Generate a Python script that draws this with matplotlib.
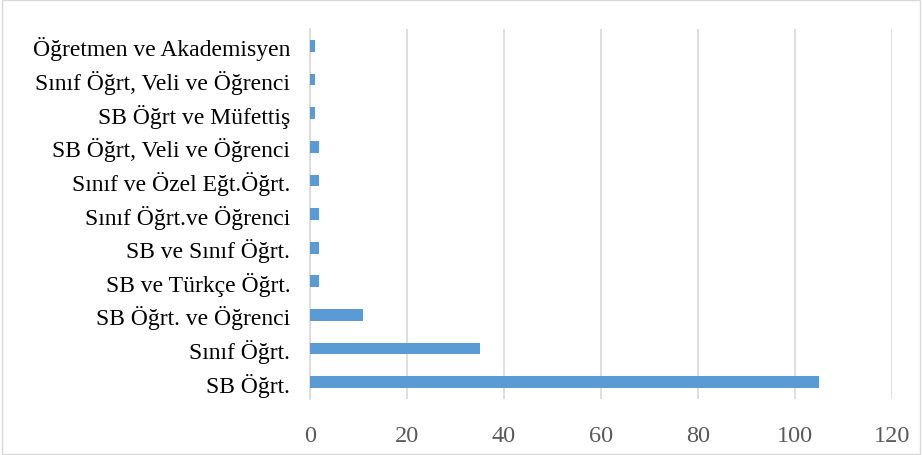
import matplotlib.pyplot as plt
from matplotlib.patches import Rectangle

# kategoriler (alttan üste)
kategoriler = ["SB Öğrt.", "Sınıf Öğrt.", "SB Öğrt. ve Öğrenci", "SB ve Türkçe Öğrt.",
               "SB ve Sınıf Öğrt.", "Sınıf Öğrt.ve Öğrenci", "Sınıf ve Özel Eğt.Öğrt.",
               "SB Öğrt, Veli ve Öğrenci", "SB Öğrt ve Müfettiş",
               "Sınıf Öğrt, Veli ve Öğrenci", "Öğretmen ve Akademisyen"]
degerler = [105, 35, 11, 2, 2, 2, 2, 2, 1, 1, 1]
x_ticks = [0, 20, 40, 60, 80, 100, 120]

plt.rcParams['font.family'] = ['Liberation Serif', 'DejaVu Serif']

fig = plt.figure(figsize=(9.22, 4.56), dpi=100)
ax = fig.add_axes([0.336, 0.123, 0.6315, 0.811])

y = range(len(kategoriler))
ax.barh(y, degerler, height=0.35, color='#5B9BD5', zorder=3)

ax.set_xlim(0, 120)
ax.set_ylim(-0.5, len(kategoriler) - 0.5)
ax.set_xticks(x_ticks)
ax.set_yticks(list(y))
ax.set_yticklabels(kategoriler)
ax.grid(axis='x', color='#D9D9D9', linewidth=1.2, zorder=0)
ax.tick_params(axis='both', length=0)
ax.tick_params(axis='x', colors='#595959', pad=19, labelsize=17.5)
ax.tick_params(axis='y', colors='black', pad=14, labelsize=17)
for s in ['top', 'right', 'bottom']:
    ax.spines[s].set_visible(False)
ax.spines['left'].set_color('#D9D9D9')
ax.spines['left'].set_linewidth(1.2)

# çerçeve
fig.patches.append(Rectangle((0.002, 0.003), 0.996, 0.994, transform=fig.transFigure,
                             fill=False, edgecolor='#D9D9D9', linewidth=1))

fig.savefig('out.png', dpi=100)
